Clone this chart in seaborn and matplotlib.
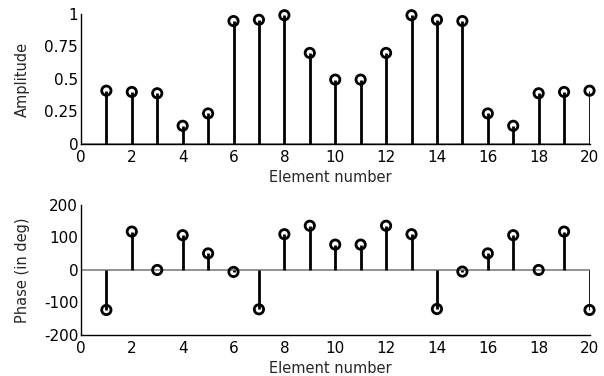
import numpy as np
import pandas as pd
import matplotlib
matplotlib.use("Agg")
import matplotlib.pyplot as plt
import seaborn as sns

element = list(range(1, 21))
amplitude = [0.41, 0.40, 0.39, 0.14, 0.235, 0.945, 0.955, 0.99, 0.70, 0.495,
             0.495, 0.70, 0.99, 0.955, 0.945, 0.235, 0.14, 0.39, 0.40, 0.41]
phase = [-123, 118, 0, 107, 51, -6, -121, 110, 136, 78,
         78, 136, 110, -120, -5, 51, 107, 0, 118, -123]
x_ticks = list(range(0, 21, 2))
amp_ticks = [0, 0.25, 0.5, 0.75, 1]
amp_ticklabels = ["0", "0.25", "0.5", "0.75", "1"]
phase_ticks = [-200, -100, 0, 100, 200]
phase_ticklabels = ["-200", "-100", "0", "100", "200"]

sns.set_style("white")
plt.rcParams['font.family'] = ['DejaVu Sans']
plt.rcParams['axes.unicode_minus'] = False

df = pd.DataFrame({"element": element, "amplitude": amplitude, "phase": phase})

fig = plt.figure(figsize=(6.04, 3.76), dpi=100)
ax1 = fig.add_axes([0.134, 0.617, 0.842, 0.346])
ax2 = fig.add_axes([0.134, 0.109, 0.842, 0.346])

def stem(ax, col):
    ax.axhline(0, color="#808080", lw=1.2, zorder=1)
    ax.vlines(df["element"], 0, df[col], color="black", lw=2, zorder=2)
    sns.scatterplot(data=df, x="element", y=col, ax=ax, marker="o", s=45,
                    facecolor="none", edgecolor="black", linewidth=2, zorder=3,
                    clip_on=False)

stem(ax1, "amplitude")
stem(ax2, "phase")

for ax in (ax1, ax2):
    ax.set_xlim(0, 20)
    ax.set_xticks(x_ticks)
    ax.set_xticklabels([str(t) for t in x_ticks])
    ax.set_xlabel("Element number", fontsize=10.5)
    ax.xaxis.set_label_coords(0.49, -0.2)
    sns.despine(ax=ax)
    for s in ("left", "bottom"):
        ax.spines[s].set_color("black")
        ax.spines[s].set_linewidth(1)
    ax.tick_params(direction="in", length=3, width=0.8, labelsize=11, pad=2, colors="black")
    ax.tick_params(axis="x", pad=4)

ax1.set_ylim(0, 1)
ax1.set_yticks(amp_ticks)
ax1.set_yticklabels(amp_ticklabels)
ax1.set_ylabel("Amplitude", fontsize=10.5)
ax1.yaxis.set_label_coords(-0.1, 0.5)

ax2.set_ylim(-200, 200)
ax2.set_yticks(phase_ticks)
ax2.set_yticklabels(phase_ticklabels)
ax2.set_ylabel("Phase (in deg)", fontsize=10.5)
ax2.yaxis.set_label_coords(-0.1, 0.5)

fig.savefig("out.png", dpi=100)
